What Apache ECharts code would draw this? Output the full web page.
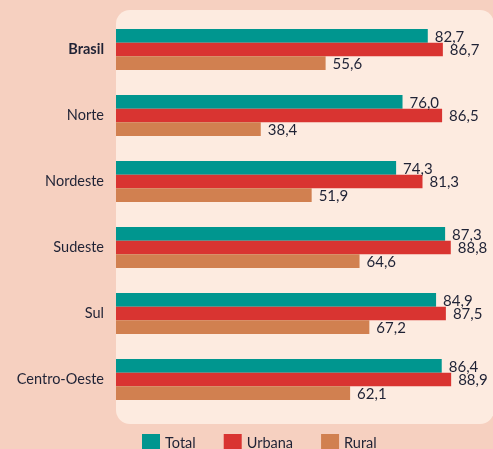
<!DOCTYPE html>
<html>
<head>
<meta charset="utf-8">
<script src="https://cdn.jsdelivr.net/npm/echarts@6/dist/echarts.min.js"></script>
<style>
  html, body { margin: 0; padding: 0; background: #f6d0c0; }
  #chart { width: 493px; height: 449px; }
</style>
</head>
<body>
<div id="chart"></div>
<script>
// Regions (top to bottom)
const regions = ['Brasil', 'Norte', 'Nordeste', 'Sudeste', 'Sul', 'Centro-Oeste'];
// Percent values per region
const totalValues  = [82.7, 76.0, 74.3, 87.3, 84.9, 86.4];
const urbanaValues = [86.7, 86.5, 81.3, 88.8, 87.5, 88.9];
const ruralValues  = [55.6, 38.4, 51.9, 64.6, 67.2, 62.1];
const seriesNames = ['Total', 'Urbana', 'Rural'];
const seriesColors = ['#00968f', '#d93431', '#d18050'];

const FONT = 'Lato';
const TEXT = '#1f2235';
const fmt = v => v.toFixed(1).replace('.', ',');

function barSeries(name, data, color) {
  return {
    name: name,
    type: 'bar',
    data: data,
    barWidth: 13.7,
    barGap: '0%',
    itemStyle: { color: color },
    label: {
      show: true,
      position: 'right',
      distance: 7,
      offset: [0, 1],
      color: TEXT,
      fontFamily: FONT,
      fontSize: 15,
      formatter: p => fmt(p.value)
    },
    emphasis: { disabled: true }
  };
}

const chart = echarts.init(document.getElementById('chart'), null, { renderer: 'canvas' });
chart.setOption({
  backgroundColor: '#f6d0c0',
  animation: false,
  graphic: [{
    type: 'rect',
    z: -10,
    shape: { x: 116, y: 10, width: 378, height: 414, r: 14 },
    style: { fill: '#fdebe0' }
  }],
  grid: { left: 116, top: 16.5, width: 378, height: 396, containLabel: false },
  xAxis: {
    type: 'value',
    min: 0,
    max: 100,
    show: false
  },
  yAxis: {
    type: 'category',
    data: regions,
    inverse: true,
    axisLine: { show: false },
    axisTick: { show: false },
    splitLine: { show: false },
    axisLabel: {
      margin: 12,
      color: TEXT,
      fontFamily: FONT,
      fontSize: 14.5,
      formatter: v => v === 'Brasil' ? '{b|' + v + '}' : v,
      rich: { b: { fontWeight: 'bold', fontFamily: FONT, fontSize: 14.5, color: TEXT } }
    }
  },
  legend: {
    top: 434,
    left: 142,
    padding: 0,
    itemWidth: 18,
    itemHeight: 18,
    itemGap: 28,
    icon: 'rect',
    textStyle: { color: TEXT, fontFamily: FONT, fontSize: 14.5 },
    data: seriesNames
  },
  series: [
    barSeries(seriesNames[0], totalValues, seriesColors[0]),
    barSeries(seriesNames[1], urbanaValues, seriesColors[1]),
    barSeries(seriesNames[2], ruralValues, seriesColors[2])
  ]
});
</script>
</body>
</html>
